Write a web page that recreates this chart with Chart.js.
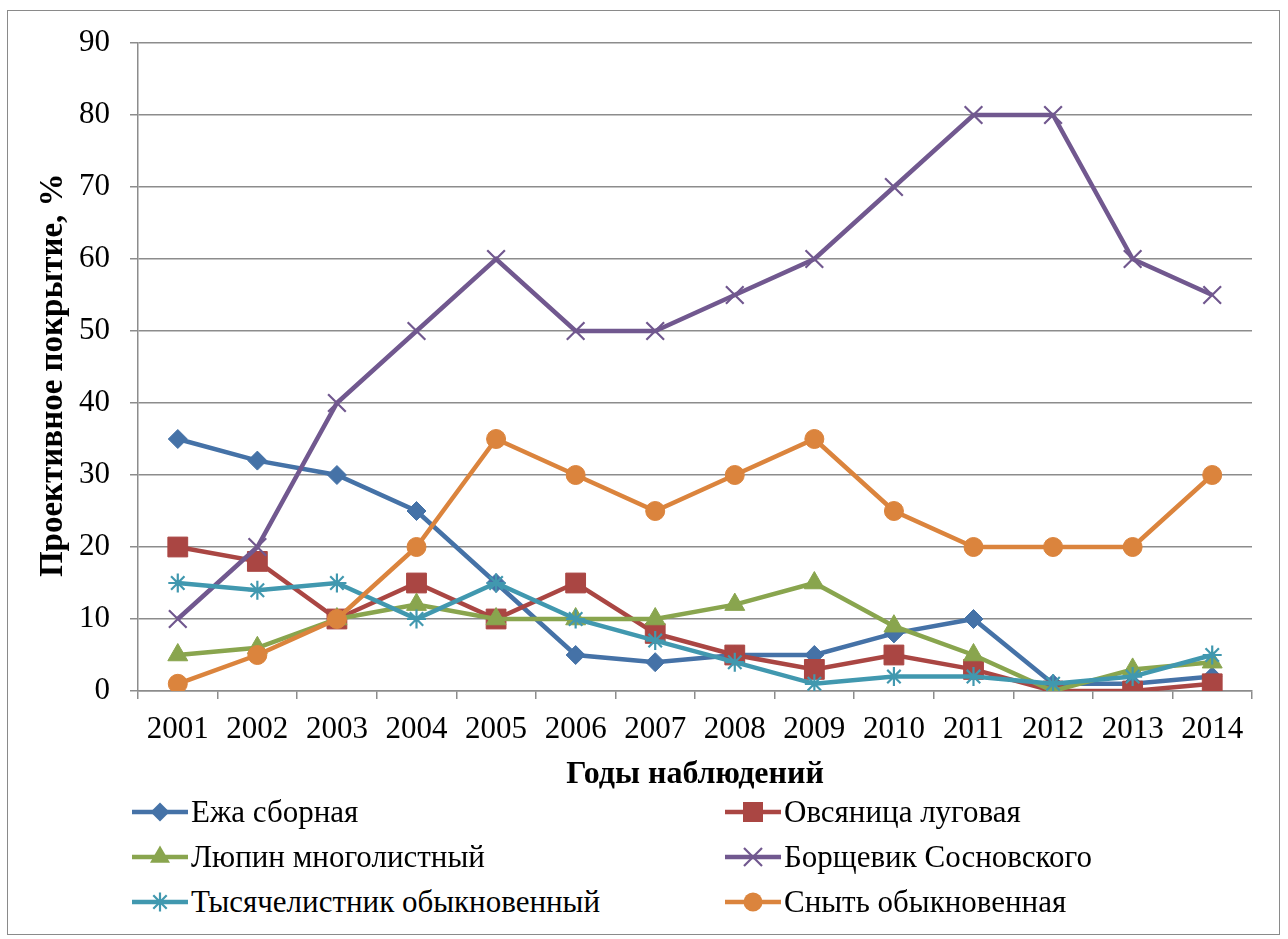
<!DOCTYPE html>
<html>
<head>
<meta charset="utf-8">
<script src="https://cdn.jsdelivr.net/npm/chart.js@4"></script>
<style>
  html, body { margin: 0; padding: 0; background: #fff; }
  body { width: 1288px; height: 939px; position: relative; overflow: hidden; font-family: 'Liberation Serif'; }
  #frame { position: absolute; left: 7px; top: 10px; width: 1273px; height: 925px; border: 1.5px solid #8a8a8a; box-sizing: border-box; }
  #wrap { position: absolute; left: 0; top: 0; width: 1288px; height: 795px; }
  .li { position: absolute; height: 36px; display: flex; align-items: center; font-family: 'Liberation Serif'; font-size: 31px; color: #000; white-space: nowrap; }
  .li svg { margin-right: 3px; flex: none; }
</style>
</head>
<body>
<div id="frame"></div>
<div id="wrap"><canvas id="c" width="1288" height="795"></canvas></div>
<div id="legend"></div>
<script>
const years = ["2001","2002","2003","2004","2005","2006","2007","2008","2009","2010","2011","2012","2013","2014"];
const seriesNames = ["Ежа сборная","Овсяница луговая","Люпин многолистный","Борщевик Сосновского","Тысячелистник обыкновенный","Сныть обыкновенная"];
const ezha        = [35,32,30,25,15,5,4,5,5,8,10,1,1,2];
const ovsyanitsa  = [20,18,10,15,10,15,8,5,3,5,3,0,0,1];
const lyupin      = [5,6,10,12,10,10,10,12,15,9,5,0,3,4];
const borschevik  = [10,20,40,50,60,50,50,55,60,70,80,80,60,55];
const tysyach     = [15,14,15,10,15,10,7,4,1,2,2,1,2,5];
const snyt        = [1,5,10,20,35,30,25,30,35,25,20,20,20,30];
const yTicks = [0,10,20,30,40,50,60,70,80,90];
const yTitle = "Проективное покрытие, %\u00A0\u00A0";
const xTitle = "Годы наблюдений";

const colors = ["#4572A7","#AA4643","#89A54E","#71588F","#4198AF","#DB843D"];
const styles = ["rectRot","rect","triangle","crossRot","star","circle"];
const radii  = [9.5,14,11.5,12.5,9.5,9.5];
const values = [ezha, ovsyanitsa, lyupin, borschevik, tysyach, snyt];

const gridColor = "#8c8c8c";
const FONT = "'Liberation Serif'";
Chart.defaults.font.family = FONT;

const datasets = seriesNames.map((n, i) => ({
  label: n,
  data: values[i],
  borderColor: colors[i],
  backgroundColor: colors[i],
  borderWidth: 4.5,
  pointStyle: styles[i],
  pointRadius: radii[i],
  pointHoverRadius: radii[i],
  pointBackgroundColor: colors[i],
  pointBorderColor: colors[i],
  pointBorderWidth: (styles[i] === "crossRot" || styles[i] === "star") ? 2.2 : 1,
  tension: 0,
  order: 5 - i
}));

new Chart(document.getElementById("c"), {
  type: "line",
  data: { labels: years, datasets },
  options: {
    responsive: false,
    animation: false,
    events: [],
    layout: { padding: { left: 0, right: 36, top: 43, bottom: 0 } },
    plugins: { legend: { display: false }, tooltip: { enabled: false } },
    scales: {
      x: {
        offset: true,
        grid: { offset: true, drawOnChartArea: false, drawTicks: true, tickLength: 8, color: gridColor, lineWidth: 1.5 },
        border: { display: true, color: gridColor, width: 1.5 },
        ticks: { font: { family: FONT, size: 31 }, color: "#000", padding: 12, maxRotation: 0, autoSkip: false },
        title: { display: true, text: xTitle, font: { family: FONT, size: 32, weight: "bold" }, color: "#000", padding: { top: 0, bottom: 1 } },
        afterFit: s => { s.height = 104; }
      },
      y: {
        min: 0, max: 90,
        afterBuildTicks: s => { s.ticks = yTicks.map(v => ({ value: v })); },
        grid: { drawTicks: true, tickLength: 8, color: gridColor, lineWidth: 1.5 },
        border: { display: true, color: gridColor, width: 1.5 },
        ticks: { font: { family: FONT, size: 31 }, color: "#000", padding: 20 },
        title: { display: true, text: yTitle, font: { family: FONT, size: 33, weight: "bold" }, color: "#000", padding: { top: 34, bottom: 0 } },
        afterFit: s => { s.width = 138; }
      }
    }
  }
});

// HTML legend, two columns
const legend = document.getElementById("legend");
const pos = [[132,812],[725,812],[132,857],[725,857],[132,902],[725,902]];
function markerSvg(style, color) {
  const cx = 28, cy = 15;
  let shape = "";
  if (style === "rectRot") shape = `<polygon points="${cx},${cy-9.5} ${cx+9.5},${cy} ${cx},${cy+9.5} ${cx-9.5},${cy}" fill="${color}"/>`;
  else if (style === "rect") shape = `<rect x="${cx-10}" y="${cy-10}" width="20" height="20" fill="${color}"/>`;
  else if (style === "triangle") shape = `<polygon points="${cx},${cy-11.5} ${cx+10},${cy+5.8} ${cx-10},${cy+5.8}" fill="${color}"/>`;
  else if (style === "crossRot") shape = `<path d="M${cx-9},${cy-9}L${cx+9},${cy+9}M${cx+9},${cy-9}L${cx-9},${cy+9}" stroke="${color}" stroke-width="2.2"/>`;
  else if (style === "star") shape = `<path d="M${cx},${cy-9.5}L${cx},${cy+9.5}M${cx-6.7},${cy-6.7}L${cx+6.7},${cy+6.7}M${cx+6.7},${cy-6.7}L${cx-6.7},${cy+6.7}M${cx-9.5},${cy}L${cx+9.5},${cy}" stroke="${color}" stroke-width="2.2"/>`;
  else if (style === "circle") shape = `<circle cx="${cx}" cy="${cy}" r="9.5" fill="${color}"/>`;
  return `<svg width="56" height="30" viewBox="0 0 56 30"><line x1="0" y1="15" x2="56" y2="15" stroke="${color}" stroke-width="4.5" stroke-linecap="round"/>${shape}</svg>`;
}
seriesNames.forEach((n, i) => {
  const d = document.createElement("div");
  d.className = "li";
  d.style.left = pos[i][0] + "px";
  d.style.top = (pos[i][1] - 18) + "px";
  d.innerHTML = markerSvg(styles[i], colors[i]) + "<span>" + n + "</span>";
  legend.appendChild(d);
});
</script>
</body>
</html>
